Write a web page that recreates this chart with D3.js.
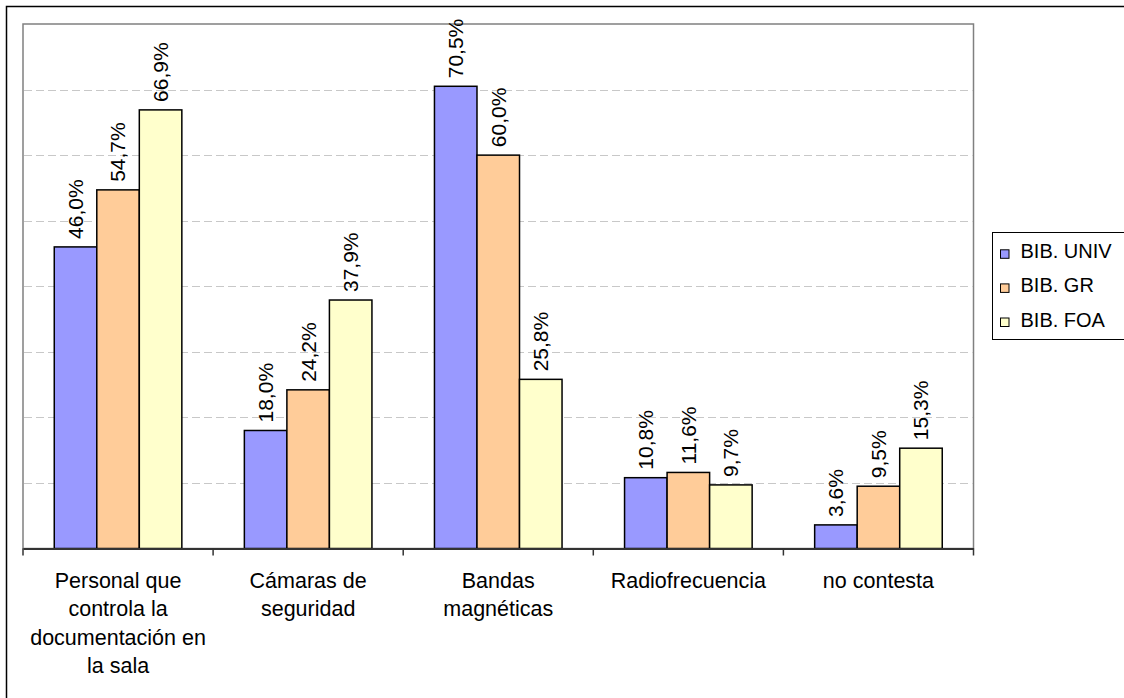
<!DOCTYPE html>
<html>
<head>
<meta charset="utf-8">
<script src="https://cdn.jsdelivr.net/npm/d3@7"></script>
<style>
  html, body { margin: 0; padding: 0; background: #fff; }
  svg { display: block; font-family: "Liberation Sans", Arial, sans-serif; }
</style>
</head>
<body>
<svg id="chart" width="1124" height="698"></svg>
<script>
const categories = ["Personal que controla la documentación en la sala", "Cámaras de seguridad", "Bandas magnéticas", "Radiofrecuencia", "no contesta"];
const categoryLines = [
  ["Personal que", "controla la", "documentación en", "la sala"],
  ["Cámaras de", "seguridad"],
  ["Bandas", "magnéticas"],
  ["Radiofrecuencia"],
  ["no contesta"]
];
const seriesNames = ["BIB. UNIV", "BIB. GR", "BIB. FOA"];
const seriesColors = ["#9999FF", "#FFCC99", "#FFFFCC"];
const univValues = [46.0, 18.0, 70.5, 10.8, 3.6];
const grValues = [54.7, 24.2, 60.0, 11.6, 9.5];
const foaValues = [66.9, 37.9, 25.8, 9.7, 15.3];
const gridTicks = [10, 20, 30, 40, 50, 60, 70, 80];

const seriesValues = [univValues, grValues, foaValues];
const svg = d3.select("#chart");

const plot = { left: 23, right: 973.5, top: 24, bottom: 548.5 };

// outer frame
svg.append("rect").attr("x", 6.5).attr("y", 6.5).attr("width", 1130).attr("height", 710)
  .attr("fill", "#fff").attr("stroke", "#000").attr("stroke-width", 1.5);

const y = d3.scaleLinear().domain([0, 80]).range([plot.bottom, plot.top]);
const x0 = d3.scaleBand().domain(categories).range([plot.left, plot.right]).padding(0);
const x1 = d3.scaleBand().domain(seriesNames).range([0, x0.bandwidth()])
  .paddingInner(0).paddingOuter(0.735);

// gridlines
svg.append("g").selectAll("line").data(gridTicks.filter(d => d < 80)).join("line")
  .attr("x1", plot.left + 1).attr("x2", plot.right - 1)
  .attr("y1", d => Math.round(y(d)) + 0.5).attr("y2", d => Math.round(y(d)) + 0.5)
  .attr("stroke", "#c8c8c8").attr("stroke-width", 1).attr("stroke-dasharray", "8,4");

// plot area border
svg.append("rect").attr("x", plot.left).attr("y", plot.top)
  .attr("width", plot.right - plot.left).attr("height", plot.bottom - plot.top)
  .attr("fill", "none").attr("stroke", "#808080").attr("stroke-width", 1.5);

// bars
const fmt = v => d3.format(".1f")(v).replace(".", ",") + "%";
const groups = svg.append("g").selectAll("g").data(categories).join("g")
  .attr("transform", d => `translate(${x0(d)},0)`);

groups.each(function(cat, ci) {
  const g = d3.select(this);
  const rows = seriesNames.map((s, si) => ({ s, si, v: seriesValues[si][ci] }));
  g.selectAll("rect").data(rows).join("rect")
    .attr("x", d => x1(d.s)).attr("width", x1.bandwidth())
    .attr("y", d => y(d.v)).attr("height", d => y(0) - y(d.v))
    .attr("fill", d => seriesColors[d.si]).attr("stroke", "#000").attr("stroke-width", 1.5);
  g.selectAll("text").data(rows).join("text")
    .attr("transform", d => `translate(${x1(d.s) + x1.bandwidth() / 2},${y(d.v) - 8}) rotate(-90)`)
    .attr("dy", "0.35em")
    .attr("text-anchor", "start")
    .attr("font-size", "21px").attr("fill", "#000")
    .text(d => fmt(d.v));
});

// x axis baseline + ticks
const axis = d3.axisBottom(x0).tickSize(0).tickFormat("");
const axG = svg.append("g").attr("transform", `translate(0,${plot.bottom})`).call(axis);
axG.select(".domain").attr("stroke", "#333").attr("stroke-width", 2);
const tickPositions = categories.map(c => x0(c)).concat([plot.right]);
svg.append("g").selectAll("line").data(tickPositions).join("line")
  .attr("x1", d => d).attr("x2", d => d)
  .attr("y1", plot.bottom).attr("y2", plot.bottom + 7)
  .attr("stroke", "#333").attr("stroke-width", 1.5);

// category labels
const catG = svg.append("g").selectAll("text").data(categories).join("text")
  .attr("x", d => x0(d) + x0.bandwidth() / 2)
  .attr("y", 588)
  .attr("text-anchor", "middle").attr("font-size", "21.5px").attr("fill", "#000");
catG.each(function(d, i) {
  d3.select(this).selectAll("tspan").data(categoryLines[i]).join("tspan")
    .attr("x", x0(d) + x0.bandwidth() / 2)
    .attr("dy", (t, j) => j === 0 ? 0 : 28.3)
    .text(t => t);
});

// legend
const lg = svg.append("g");
lg.append("rect").attr("x", 992.5).attr("y", 232.5).attr("width", 140).attr("height", 107)
  .attr("fill", "#fff").attr("stroke", "#000").attr("stroke-width", 1);
const ly = d3.scalePoint().domain(seriesNames).range([258.3, 326.5]);
lg.selectAll("rect.sw").data(seriesNames).join("rect").attr("class", "sw")
  .attr("x", 1000.5).attr("y", d => ly(d) - 8.5).attr("width", 8.5).attr("height", 8.5)
  .attr("fill", (d, i) => seriesColors[i]).attr("stroke", "#000").attr("stroke-width", 1);
lg.selectAll("text").data(seriesNames).join("text")
  .attr("x", 1020.5).attr("y", d => ly(d))
  .attr("font-size", "20px").attr("fill", "#000")
  .text(d => d);
</script>
</body>
</html>
